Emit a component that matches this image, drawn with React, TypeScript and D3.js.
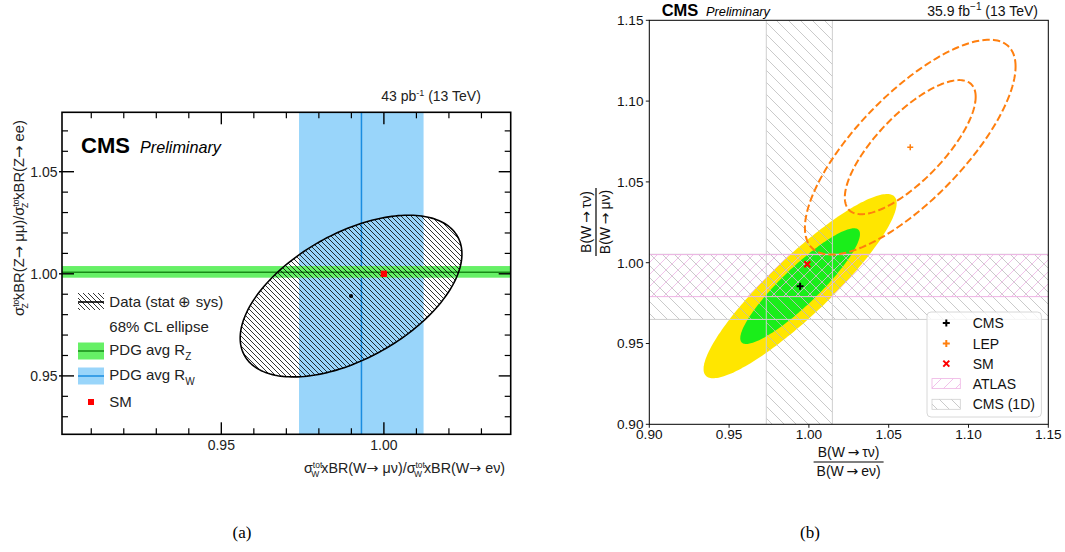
import React from 'react';
import * as d3 from 'd3';

// ---------------- Panel (a) data ----------------
const aXDomain = [0.901, 1.039];
const aYDomain = [0.9214, 1.0791];
const aXMajorTicks = [0.95, 1.0];
const aYMajorTicks = [0.95, 1.0, 1.05];
const aXMinorTicks = [0.91, 0.92, 0.93, 0.94, 0.96, 0.97, 0.98, 0.99, 1.01, 1.02, 1.03];
const aYMinorTicks = [0.93, 0.94, 0.96, 0.97, 0.98, 0.99, 1.01, 1.02, 1.03, 1.04, 1.06, 1.07];
const aDataCenter = [0.9899, 0.9891];
const aEllipseShape = [0.0341, 0.0396, 0.52]; // half-width x, half-height y, correlation
const pdgRW = [0.9739, 0.9931, 1.0122]; // low, central, high
const pdgRZ = [0.9981, 1.0008, 1.0038];
const aSM = [1.0, 1.0];

// ---------------- Panel (b) data ----------------
const bDomain = [0.9, 1.15];
const bTicks = [0.9, 0.95, 1.0, 1.05, 1.1, 1.15];
const cmsPoint = [0.9945, 0.9855];
const cms68 = [0.0375, 0.0358, 0.9];
const cms95 = [0.0605, 0.057, 0.9];
const lepPoint = [1.0635, 1.0715];
const lep68 = [0.041, 0.0415, 0.75];
const lep95 = [0.066, 0.0665, 0.75];
const smPoint = [0.999, 0.999];
const atlasBand = [0.979, 1.005];
const cms1DX = [0.9733, 1.0147];
const cms1DY = [0.9649, 1.0052];
const bLegendLabels = ['CMS', 'LEP', 'SM', 'ATLAS', 'CMS (1D)'];

const FONT = '"Liberation Sans", Arial, Helvetica, sans-serif';
const ARROWFONT = '"DejaVu Sans", sans-serif';
const THIN = '\u2009';

function ellipsePts(c: number[], s: number[], n = 200): [number, number][] {
  const [hx, hy, rho] = s;
  return d3.range(n).map((i) => {
    const t = (2 * Math.PI * i) / n;
    return [c[0] + hx * Math.cos(t), c[1] + hy * (rho * Math.cos(t) + Math.sqrt(1 - rho * rho) * Math.sin(t))] as [number, number];
  });
}

const fmt2 = d3.format('.2f');

function Arrow() {
  return <tspan fontFamily={ARROWFONT}>→</tspan>;
}

function PanelA() {
  const L = 62, R = 510.7, T = 112.3, B = 434.3;
  const x = d3.scaleLinear().domain(aXDomain).range([L, R]);
  const y = d3.scaleLinear().domain(aYDomain).range([B, T]);
  const line = d3.line<[number, number]>().x((d) => x(d[0])).y((d) => y(d[1])).curve(d3.curveLinearClosed);
  const ell = line(ellipsePts(aDataCenter, aEllipseShape))!;
  const legY = [302, 327, 351, 376, 402];
  const lx0 = 78, lx1 = 104, tx = 109.3;
  return (
    <g fontFamily={FONT}>
      <defs>
        <clipPath id="clipA"><rect x={L} y={T} width={R - L} height={B - T} /></clipPath>
        <pattern id="hatchA" patternUnits="userSpaceOnUse" width={5} height={5}>
          <path d="M-1,-1 L6,6 M-1,4 L1,6 M4,-1 L6,1" stroke="#000" strokeWidth={0.8} />
        </pattern>
      </defs>
      <g clipPath="url(#clipA)">
        <rect x={x(pdgRW[0])} y={T} width={x(pdgRW[2]) - x(pdgRW[0])} height={B - T} fill="#99d5fa" />
        <line x1={x(pdgRW[1])} x2={x(pdgRW[1])} y1={T} y2={B} stroke="#1a8de0" strokeWidth={1.5} />
        <rect x={L} y={y(pdgRZ[2])} width={R - L} height={y(pdgRZ[0]) - y(pdgRZ[2])} fill="#66f066" />
        <line x1={L} x2={R} y1={y(pdgRZ[1])} y2={y(pdgRZ[1])} stroke="#188a18" strokeWidth={1.5} />
        <path d={ell} fill="url(#hatchA)" stroke="#000" strokeWidth={1.6} />
        <circle cx={x(aDataCenter[0])} cy={y(aDataCenter[1])} r={2} fill="#000" />
        <rect x={x(aSM[0]) - 3.2} y={y(aSM[1]) - 3.2} width={6.4} height={6.4} fill="#f00" />
      </g>
      {/* frame */}
      <rect x={L} y={T} width={R - L} height={B - T} fill="none" stroke="#000" strokeWidth={1.6} />
      {/* ticks */}
      {aXMajorTicks.map((v) => (
        <g key={'xm' + v}>
          <line x1={x(v)} x2={x(v)} y1={B} y2={B - 12} stroke="#000" strokeWidth={1.4} />
          <line x1={x(v)} x2={x(v)} y1={T} y2={T + 12} stroke="#000" strokeWidth={1.4} />
          <text x={x(v)} y={450} textAnchor="middle" fontSize={14} fill="#222">{fmt2(v)}</text>
        </g>
      ))}
      {aXMinorTicks.map((v) => (
        <g key={'xn' + v}>
          <line x1={x(v)} x2={x(v)} y1={B} y2={B - 6} stroke="#000" strokeWidth={1.2} />
          <line x1={x(v)} x2={x(v)} y1={T} y2={T + 6} stroke="#000" strokeWidth={1.2} />
        </g>
      ))}
      {aYMajorTicks.map((v) => (
        <g key={'ym' + v}>
          <line x1={L - 3} x2={L + 12} y1={y(v)} y2={y(v)} stroke="#000" strokeWidth={1.4} />
          <line x1={R - 12} x2={R} y1={y(v)} y2={y(v)} stroke="#000" strokeWidth={1.4} />
          <text x={57.5} y={y(v)} dy="0.36em" textAnchor="end" fontSize={14} fill="#222">{fmt2(v)}</text>
        </g>
      ))}
      {aYMinorTicks.map((v) => (
        <g key={'yn' + v}>
          <line x1={L} x2={L + 6} y1={y(v)} y2={y(v)} stroke="#000" strokeWidth={1.2} />
          <line x1={R - 6} x2={R} y1={y(v)} y2={y(v)} stroke="#000" strokeWidth={1.2} />
        </g>
      ))}
      {/* CMS Preliminary */}
      <text x={81} y={152.7} fontSize={22} fontWeight="bold" fill="#000">CMS</text>
      <text x={140} y={152.7} fontSize={16.2} fontStyle="italic" fill="#000">Preliminary</text>
      <text x={480.8} y={100.6} textAnchor="end" fontSize={14} fill="#222">
        43 pb<tspan fontSize={9} dy={-5}>-1</tspan><tspan dy={5}> (13 TeV)</tspan>
      </text>
      {/* legend */}
      <rect x={lx0} y={legY[0] - 9} width={lx1 - lx0} height={17} fill="url(#hatchA)" />
      <line x1={lx0} x2={lx1} y1={legY[0]} y2={legY[0]} stroke="#000" strokeWidth={1.6} />
      <text x={tx} y={legY[0]} dy="0.36em" fontSize={15} fill="#222">Data (stat ⊕ sys)</text>
      <text x={tx} y={legY[1]} dy="0.36em" fontSize={15} fill="#222">68% CL ellipse</text>
      <rect x={lx0} y={legY[2] - 8.5} width={lx1 - lx0} height={17} fill="#66f066" />
      <line x1={lx0} x2={lx1} y1={legY[2]} y2={legY[2]} stroke="#188a18" strokeWidth={1.5} />
      <text x={tx} y={legY[2] - 1} dy="0.36em" fontSize={15} fill="#222">PDG avg R<tspan fontSize={10} dy={5}>Z</tspan></text>
      <rect x={lx0} y={legY[3] - 8.5} width={lx1 - lx0} height={17} fill="#99d5fa" />
      <line x1={lx0} x2={lx1} y1={legY[3]} y2={legY[3]} stroke="#1a8de0" strokeWidth={1.5} />
      <text x={tx} y={legY[3] - 1} dy="0.36em" fontSize={15} fill="#222">PDG avg R<tspan fontSize={10} dy={5}>W</tspan></text>
      <rect x={91 - 3} y={legY[4] - 3} width={6} height={6} fill="#f00" />
      <text x={tx} y={legY[4]} dy="0.36em" fontSize={15} fill="#222">SM</text>
      {/* axis titles */}
      <text x={304} y={473} fontSize={14.3} fill="#222">
        σ<tspan fontSize={8.5} dy={-5}>tot</tspan><tspan fontSize={8.5} dx={-11} dy={9}>W</tspan>
        <tspan dx={2} dy={-4}>xBR(W</tspan><Arrow /><tspan> μν)/σ</tspan><tspan fontSize={8.5} dy={-5}>tot</tspan><tspan fontSize={8.5} dx={-11} dy={9}>W</tspan>
        <tspan dx={2} dy={-4}>xBR(W</tspan><Arrow /><tspan> eν)</tspan>
      </text>
      <g transform={`translate(24,218) rotate(-90)`}>
        <text x={0} y={0} textAnchor="middle" fontSize={14.8} fill="#222">
          σ<tspan fontSize={8.5} dy={-5}>tot</tspan><tspan fontSize={8.5} dx={-11} dy={9}>Z</tspan>
          <tspan dx={3} dy={-4}>xBR(Z</tspan><Arrow /><tspan> μμ)/σ</tspan><tspan fontSize={8.5} dy={-5}>tot</tspan><tspan fontSize={8.5} dx={-11} dy={9}>Z</tspan>
          <tspan dx={3} dy={-4}>xBR(Z</tspan><Arrow /><tspan> ee)</tspan>
        </text>
      </g>
    </g>
  );
}

function plusPath(cx: number, cy: number, s: number) {
  return `M${cx - s},${cy} L${cx + s},${cy} M${cx},${cy - s} L${cx},${cy + s}`;
}
function crossPath(cx: number, cy: number, s: number) {
  return `M${cx - s},${cy - s} L${cx + s},${cy + s} M${cx - s},${cy + s} L${cx + s},${cy - s}`;
}

function PanelB() {
  const L = 649.3, R = 1048.3, T = 20.3, B = 424.3;
  const x = d3.scaleLinear().domain(bDomain).range([L, R]);
  const y = d3.scaleLinear().domain(bDomain).range([B, T]);
  const line = d3.line<[number, number]>().x((d) => x(d[0])).y((d) => y(d[1])).curve(d3.curveLinearClosed);
  const legY = [323, 343.6, 363.6, 383.6, 404.3];
  const mx = 946.3, tx = 972.7;
  const pink = '#eeb4e4';
  const gray = '#bdbdbd';
  return (
    <g fontFamily={FONT}>
      <defs>
        <clipPath id="clipB"><rect x={L} y={T} width={R - L} height={B - T} /></clipPath>
        <pattern id="hatchGray" patternUnits="userSpaceOnUse" width={12} height={12}>
          <path d="M-1,-1 L13,13 M-1,11 L1,13 M11,-1 L13,1" stroke={gray} strokeWidth={0.8} />
        </pattern>
        <pattern id="hatchPink" patternUnits="userSpaceOnUse" width={12} height={12}>
          <path d="M-1,13 L13,-1 M-1,1 L1,-1 M11,13 L13,11" stroke={pink} strokeWidth={0.8} />
        </pattern>
      </defs>
      <g clipPath="url(#clipB)">
        <path d={line(ellipsePts(cmsPoint, cms95))!} fill="#ffe600" />
        <path d={line(ellipsePts(cmsPoint, cms68))!} fill="#1aee1a" />
        {/* CMS 1D bands */}
        <rect x={x(cms1DX[0])} y={T} width={x(cms1DX[1]) - x(cms1DX[0])} height={B - T} fill="url(#hatchGray)" />
        <rect x={L} y={y(cms1DY[1])} width={R - L} height={y(cms1DY[0]) - y(cms1DY[1])} fill="url(#hatchGray)" />
        {cms1DX.map((v) => (
          <line key={'cx' + v} x1={x(v)} x2={x(v)} y1={T} y2={B} stroke="#cfcfcf" strokeWidth={1} />
        ))}
        {cms1DY.map((v) => (
          <line key={'cy' + v} x1={L} x2={R} y1={y(v)} y2={y(v)} stroke="#cfcfcf" strokeWidth={1} />
        ))}
        {/* ATLAS band */}
        <rect x={L} y={y(atlasBand[1])} width={R - L} height={y(atlasBand[0]) - y(atlasBand[1])} fill="url(#hatchPink)" />
        {atlasBand.map((v) => (
          <line key={'ab' + v} x1={L} x2={R} y1={y(v)} y2={y(v)} stroke={pink} strokeWidth={1} />
        ))}
        {/* LEP */}
        <path d={line(ellipsePts(lepPoint, lep95))!} fill="none" stroke="#ff7f0e" strokeWidth={2} strokeDasharray="7.4,3.2" />
        <path d={line(ellipsePts(lepPoint, lep68))!} fill="none" stroke="#ff7f0e" strokeWidth={2} strokeDasharray="7.4,3.2" />
        {/* markers */}
        <path d={plusPath(x(cmsPoint[0]), y(cmsPoint[1]), 3.5)} stroke="#000" strokeWidth={2} />
        <path d={plusPath(x(lepPoint[0]), y(lepPoint[1]), 3)} stroke="#ff7f0e" strokeWidth={1.5} />
        <path d={crossPath(x(smPoint[0]), y(smPoint[1]), 3)} stroke="#f00" strokeWidth={2} />
      </g>
      {/* frame */}
      <rect x={L} y={T} width={R - L} height={B - T} fill="none" stroke="#000" strokeWidth={1} />
      {bTicks.map((v) => (
        <g key={'bt' + v}>
          <line x1={x(v)} x2={x(v)} y1={B} y2={B + 3.5} stroke="#000" strokeWidth={0.9} />
          <line x1={L - 3.5} x2={L} y1={y(v)} y2={y(v)} stroke="#000" strokeWidth={0.9} />
          <text x={x(v)} y={439} textAnchor="middle" fontSize={13.6} fill="#111">{fmt2(v)}</text>
          <text x={643.5} y={y(v)} dy="0.36em" textAnchor="end" fontSize={13.6} fill="#111">{fmt2(v)}</text>
        </g>
      ))}
      {/* header */}
      <text x={661.7} y={16} fontSize={16.5} fontWeight="bold" fill="#000">CMS</text>
      <text x={706} y={16} fontSize={12.8} fontStyle="italic" fill="#000">Preliminary</text>
      <text x={1038} y={16} textAnchor="end" fontSize={14} fill="#111">
        35.9 fb<tspan fontSize={10} dy={-6}>−1</tspan><tspan dy={6}> (13 TeV)</tspan>
      </text>
      {/* legend */}
      <rect x={927} y={312} width={114.4} height={105} rx={4} fill="#fff" fillOpacity={0.8} stroke="#d8d8d8" strokeWidth={1} />
      <path d={plusPath(mx, legY[0], 3.5)} stroke="#000" strokeWidth={2} />
      <path d={plusPath(mx, legY[1], 3.5)} stroke="#ff7f0e" strokeWidth={2} />
      <path d={crossPath(mx, legY[2], 3)} stroke="#f00" strokeWidth={2} />
      <rect x={932} y={legY[3] - 5} width={28.3} height={10} fill="url(#hatchPink)" stroke={pink} strokeWidth={0.8} />
      <rect x={932} y={legY[4] - 5} width={28.3} height={10} fill="url(#hatchGray)" stroke="#cfcfcf" strokeWidth={0.8} />
      {bLegendLabels.map((t, i) => (
        <text key={t} x={tx} y={legY[i]} dy="0.36em" fontSize={14} fill="#111">{t}</text>
      ))}
      {/* axis labels */}
      <g transform="translate(848.6,462)">
        <text x={0} y={-5} textAnchor="middle" fontSize={14} fill="#111">B(W{THIN}<Arrow />{THIN}τν)</text>
        <line x1={-35} x2={35} y1={0} y2={0} stroke="#000" strokeWidth={1.2} />
        <text x={0} y={14} textAnchor="middle" fontSize={14} fill="#111">B(W{THIN}<Arrow />{THIN}eν)</text>
      </g>
      <g transform="translate(596,222) rotate(-90)">
        <text x={0} y={-5} textAnchor="middle" fontSize={14} fill="#111">B(W{THIN}<Arrow />{THIN}τν)</text>
        <line x1={-34} x2={34} y1={0} y2={0} stroke="#000" strokeWidth={1.2} />
        <text x={0} y={14} textAnchor="middle" fontSize={14} fill="#111">B(W{THIN}<Arrow />{THIN}μν)</text>
      </g>
    </g>
  );
}

export default function App() {
  return (
    <svg width={1065} height={552} style={{ position: 'absolute', left: 0, top: 0, background: '#fff' }}>
      <rect x={0} y={0} width={1065} height={552} fill="#fff" />
      <PanelA />
      <PanelB />
      <text x={242} y={538} textAnchor="middle" fontSize={17} fontFamily='"Liberation Serif", "Times New Roman", serif' fill="#000">(a)</text>
      <text x={810} y={538} textAnchor="middle" fontSize={17} fontFamily='"Liberation Serif", "Times New Roman", serif' fill="#000">(b)</text>
    </svg>
  );
}
